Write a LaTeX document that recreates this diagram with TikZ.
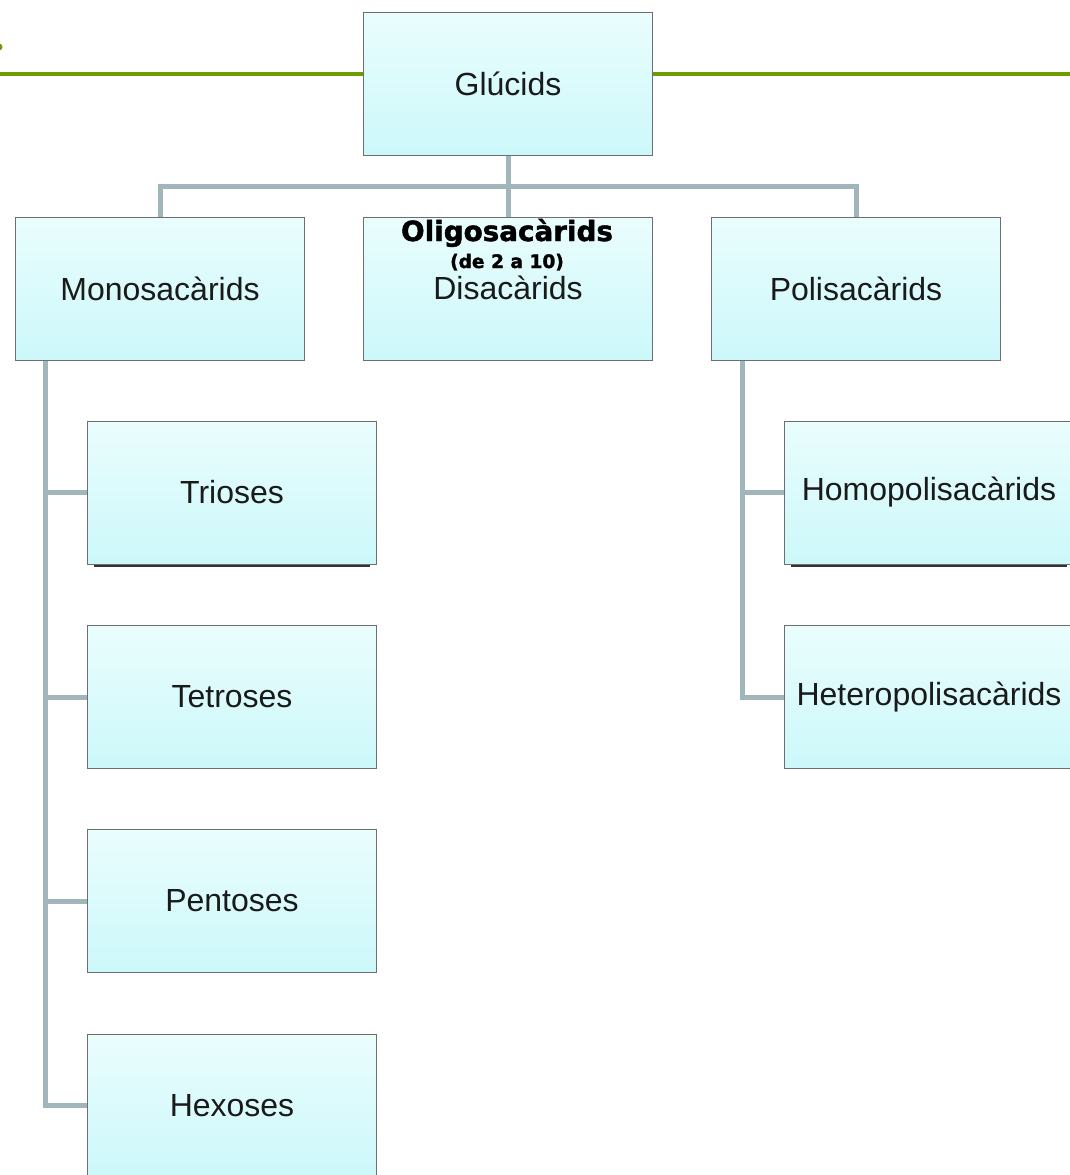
\documentclass[tikz,border=0pt]{standalone}
\usepackage{fontspec}
\setmainfont{Liberation Sans}
\newfontfamily\boldlab{DejaVu Sans}[BoldFeatures={FakeBold=1.6}]
\usetikzlibrary{positioning}
\pgfdeclarelayer{background}
\pgfsetlayers{background,main}
\definecolor{boxtop}{HTML}{EAFDFD}
\definecolor{boxbot}{HTML}{CCF8FA}
\definecolor{boxline}{HTML}{6E6E6E}
\definecolor{connc}{HTML}{A0B6BA}
\definecolor{greenline}{HTML}{6C9D00}
\definecolor{txt}{HTML}{1A1A1A}
\tikzset{
  cbox/.style={draw=boxline, line width=1pt, top color=boxtop, bottom color=boxbot,
    minimum width=289pt, minimum height=143pt, inner sep=0pt,
    font=\fontsize{32}{36}\selectfont, text=txt},
  conn/.style={draw=connc, line width=5pt, line join=miter},
  shadowline/.style={draw=black!80, line width=1.5pt},
  oligo/.style={font=\boldlab\bfseries\fontsize{27.8}{32}\selectfont, text=black, inner sep=0pt, anchor=base},
  oligosub/.style={font=\boldlab\bfseries\fontsize{18.6}{22}\selectfont, text=black, inner sep=0pt, anchor=base},
  plainlab/.style={font=\fontsize{32}{36}\selectfont, text=txt, inner sep=0pt, anchor=base}
}
\begin{document}
\begin{tikzpicture}[x=1pt,y=-1pt]
\useasboundingbox (0,0) rectangle (1070,1175);
\clip (0,0) rectangle (1070,1175);
\begin{pgfonlayer}{background}
\fill[white] (0,0) rectangle (1070,1175);
\end{pgfonlayer}

% green header line
\coordinate (gl0) at (0,74);
\coordinate (gl1) at (1070,74);
\coordinate (gdot) at (-1,47);
\fill[greenline] (gdot) circle (3.5pt);

% boxes
\node[cbox] (glu) at (508,84) {Glúcids};
\draw[greenline, line width=4pt] (gl0) -- (glu.west |- gl0);
\draw[greenline, line width=4pt] (glu.east |- gl1) -- (gl1);

\node[cbox] (mono) at (160,288.5) {Monosacàrids};
\node[cbox] (oli) at (508,288.5) {};
\node[cbox] (poly) at (856,288.5) {Polisacàrids};

\node[cbox] (tri) at (232,492.5) {Trioses};
\node[cbox] (tet) at (232,697) {Tetroses};
\node[cbox] (pen) at (232,901) {Pentoses};
\node[cbox] (hex) at (232,1105.5) {Hexoses};

\node[cbox] (homo) at (929,492.5) {Homopolisacàrids};
\node[cbox] (hete) at (929,697) {Heteropolisacàrids};

% shadows
\draw[shadowline] ([xshift=7pt,yshift=-1.5pt]tri.south west) -- ([xshift=-7pt,yshift=-1.5pt]tri.south east);
\draw[shadowline] ([xshift=7pt,yshift=-1.5pt]homo.south west) -- ([xshift=-7pt,yshift=-1.5pt]homo.south east);

% oligosaccharide labels
\node[oligo] (olit) at (507,241) {Oligosacàrids};
\node[oligosub] (olis) at (507,268) {(de 2 a 10)};
\node[plainlab] (dis) at (508,299) {Disacàrids};

% connectors
\begin{pgfonlayer}{background}
\coordinate (bus) at (508,186);
\draw[conn] (mono.north) |- (bus) -| (poly.north);
\draw[conn] (glu.south) -- (oli.north);

\coordinate (mt) at ([xshift=30pt]mono.south west);
\draw[conn] (mt) |- (hex.west);
\draw[conn] (mt |- tri.west) -- (tri.west);
\draw[conn] (mt |- tet.west) -- (tet.west);
\draw[conn] (mt |- pen.west) -- (pen.west);

\coordinate (pt) at ([xshift=31pt]poly.south west);
\draw[conn] (pt) |- (hete.west);
\draw[conn] (pt |- homo.west) -- (homo.west);
\end{pgfonlayer}
\end{tikzpicture}
\end{document}
